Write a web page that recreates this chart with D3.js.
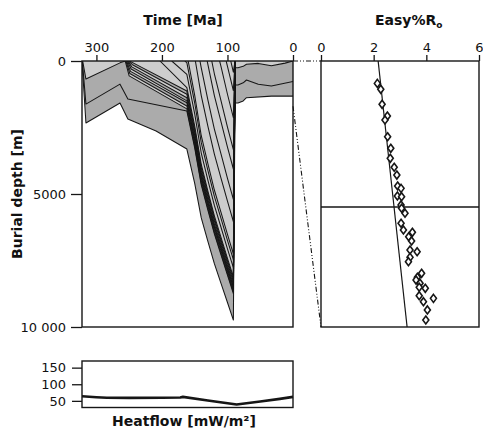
<!DOCTYPE html>
<html><head><meta charset="utf-8">
<script src="https://cdn.jsdelivr.net/npm/d3@7"></script>
<style>
body{margin:0;background:#fff;}
svg{display:block;}
text{font-family:"DejaVu Sans",sans-serif;fill:#111;}
</style></head><body>
<svg id="chart" width="483" height="430"></svg>
<script>
// ---------- tick arrays ----------
const timeTicks = [300, 200, 100, 0];
const depthTicks = [0, 5000, 10000];
const depthTickLabels = ["0", "5000", "10 000"];
const roTicks = [0, 2, 4, 6];
const heatTicks = [50, 100, 150];

// ---------- burial history horizons: [time Ma, depth m] ----------
const basement = [[322,0],[316,2330],[264,1580],[252,2180],[209,2630],[162,3310],[150,4600],[140,5900],[130,6770],[120,7620],[110,8350],[100,9080],[91,9740],[88.5,1580],[84,1580],[76,1500],[71,1380],[33,1320],[0,1320]];
const horizonB = [[321.5,0],[316,1620],[264,870],[252,1430],[162,1880],[150,3270],[140,4660],[130,5600],[120,6500],[110,7280],[100,8050],[91,8740],[88.5,900],[84,900],[76,820],[71,715],[53,875],[33,940],[0,770]];
const horizonA = [[321,0],[316,680],[264,70],[256,0]];
const fan1 = [[256,0],[250,560],[162,1800],[150,3200],[140,4590],[130,5530],[120,6440],[110,7220],[100,7990],[91,8680],[88.5,250],[84,250],[76,200],[71,120],[53,90],[33,180],[12,80],[0,0]];
const fan2 = [[255,0],[249,470],[162,1690],[150,3090],[140,4490],[130,5440],[120,6360],[110,7140],[100,7910],[91,8610],[88.5,0]];
const fan3 = [[254,0],[248,390],[162,1570],[150,2980],[140,4390],[130,5340],[120,6260],[110,7050],[100,7830],[91,8520],[88.5,0]];
const fan4 = [[253,0],[247,300],[162,1500],[150,2920],[140,4330],[130,5290],[120,6210],[110,6990],[100,7780],[91,8470],[88.5,0]];
const fan5 = [[252,0],[246,220],[162,1380],[150,2800],[140,4220],[130,5190],[120,6120],[110,6900],[100,7690],[91,8390],[88.5,0]];
const fan6 = [[251,0],[245,140],[162,1250],[150,2680],[140,4110],[130,5080],[120,6010],[110,6810],[100,7600],[91,8300],[88.5,0]];
const fan7 = [[250,0],[244,70],[162,1130],[150,2570],[140,4000],[130,4980],[120,5920],[110,6720],[100,7510],[91,8210],[88.5,0]];
const fan8 = [[203,0],[162,1000],[150,2450],[140,3890],[130,4880],[120,5820],[110,6620],[100,7420],[91,8120],[88.5,0]];
const young0 = [[185,0],[162,500],[150,1990],[140,3460],[130,4470],[120,5430],[110,6240],[100,7060],[91,7770],[88.5,0]];
const young1 = [[165,0],[162,60],[150,1580],[140,3070],[130,4100],[120,5090],[110,5910],[100,6740],[91,7470],[88.5,0]];
const young2 = [[160,0],[150,1290],[140,2810],[130,3850],[120,4850],[110,5680],[100,6520],[91,7250],[88.5,0]];
const young3 = [[149,0],[140,1300],[130,2440],[120,3500],[110,4390],[100,5270],[91,6040],[88.5,0]];
const young4 = [[142,0],[140,260],[130,1450],[120,2560],[110,3480],[100,4410],[91,5200],[88.5,0]];
const young5 = [[131,0],[130,120],[120,1300],[110,2270],[100,3240],[91,4060],[88.5,0]];
const young6 = [[124,0],[120,480],[110,1480],[100,2490],[91,3330],[88.5,0]];
const young7 = [[112,0],[110,190],[100,1250],[91,2130],[88.5,0]];
const young8 = [[102,0],[100,200],[91,1110],[88.5,0]];
const young9 = [[95,0],[91,420],[88.5,0]];
// shade of the layer lying directly above each horizon
const layerShade = ["dark","dark","light","light","dark","light","dark","light","dark","light","light","light","light","light","light","light","light","light","light","light","light"];

// ---------- vitrinite reflectance (Easy%Ro) ----------
const roValue = [2.14,2.27,2.32,2.52,2.43,2.53,2.65,2.63,2.78,2.88,2.91,3.04,2.90,3.06,3.04,3.06,3.19,3.04,3.13,3.47,3.33,3.44,3.38,3.65,3.38,3.32,3.82,3.66,3.61,3.76,3.96,3.73,3.73,4.27,3.89,4.04,3.98];
const roDepth = [143,181,277,352,377,484,558,622,679,729,799,814,863,867,920,941,973,1037,1080,1095,1123,1150,1208,1219,1255,1283,1357,1382,1400,1421,1453,1446,1500,1517,1538,1591,1655];
const trendRo = [2.17, 3.27];
const trendDepth = [0, 1700];
const markerDepth = 933;
const wellDepth = 1700;

// ---------- heat flow ----------
const heatTime = [322,300,284,250,200,172,168,130,86,50,20,0];
const heatFlow = [64,61,59.5,59,59.5,60,62,51,39,48,56,62];

// ---------- drawing ----------
const svg = d3.select("#chart");
const ink = "#161616";
const shadeColor = {light:"#cdcdcd", dark:"#ababab"};

const x = d3.scaleLinear().domain([322,0]).range([82,293]);
const y = d3.scaleLinear().domain([0,10000]).range([61,327]);
const xr = d3.scaleLinear().domain([0,6]).range([321,479]);
const yr = d3.scaleLinear().domain([0,wellDepth]).range([61,327]);
const yh = d3.scaleLinear().domain([30,170]).range([407.5,361]);

const horizons = [basement,horizonB,horizonA,fan1,fan2,fan3,fan4,fan5,fan6,fan7,fan8,young0,young1,young2,young3,young4,young5,young6,young7,young8,young9];

svg.append("clipPath").attr("id","clipB").append("rect")
  .attr("x",x(322)).attr("y",y(0)).attr("width",x(0)-x(322)).attr("height",y(10000)-y(0));

const gB = svg.append("g").attr("clip-path","url(#clipB)");
const area = d3.area().x(d=>x(d[0])).y0(y(0)).y1(d=>y(d[1]));
const line = d3.line().x(d=>x(d[0])).y(d=>y(d[1]));

horizons.forEach((h,i)=>{
  gB.append("path").attr("d",area(h)).attr("fill",shadeColor[layerShade[i]]).attr("stroke","none");
});
horizons.forEach((h,i)=>{
  gB.append("path").attr("d",line(h)).attr("fill","none").attr("stroke",ink)
    .attr("stroke-width",1.05).attr("stroke-linejoin","round");
});

// frames
function frame(x0,y0,x1,y1){
  svg.append("rect").attr("x",x0).attr("y",y0).attr("width",x1-x0).attr("height",y1-y0)
    .attr("fill","none").attr("stroke",ink).attr("stroke-width",1.4);
}
frame(x(322),y(0),x(0),y(10000));
frame(xr(0),yr(0),xr(6),yr(wellDepth));
frame(x(322),yh(170),x(0),yh(30));

function styleAxis(g,fs){
  g.select(".domain").remove();
  g.selectAll(".tick line").attr("stroke",ink).attr("stroke-width",1.3);
  g.selectAll(".tick text").attr("font-family","DejaVu Sans, sans-serif").attr("font-size",fs).attr("fill","#111");
}

const gx = svg.append("g").attr("transform",`translate(0,${y(0)})`)
  .call(d3.axisTop(x).tickValues(timeTicks).tickFormat(d3.format("d")).tickSize(6).tickPadding(3));
styleAxis(gx,13);
const gy = svg.append("g").attr("transform",`translate(${x(322)},0)`)
  .call(d3.axisLeft(y).tickValues(depthTicks).tickFormat((d,i)=>depthTickLabels[i]).tickSize(11).tickPadding(5));
styleAxis(gy,13);
const gr = svg.append("g").attr("transform",`translate(0,${yr(0)})`)
  .call(d3.axisTop(xr).tickValues(roTicks).tickFormat(d3.format("d")).tickSize(6).tickPadding(3));
styleAxis(gr,13);
const gh = svg.append("g").attr("transform",`translate(${x(322)},0)`)
  .call(d3.axisLeft(yh).tickValues(heatTicks).tickFormat(d3.format("d")).tickSize(10).tickPadding(6));
styleAxis(gh,13);

// connector lines between burial plot and Ro plot
const dash = "5,2,1,2,1,2";
svg.append("line").attr("x1",x(0)).attr("y1",y(0)).attr("x2",xr(0)).attr("y2",yr(0))
  .attr("stroke",ink).attr("stroke-width",1.1).attr("stroke-dasharray",dash);
svg.append("line").attr("x1",x(0)).attr("y1",y(wellDepth)).attr("x2",xr(0)).attr("y2",yr(wellDepth))
  .attr("stroke",ink).attr("stroke-width",1.1).attr("stroke-dasharray",dash);

// Ro plot
svg.append("line").attr("x1",xr(0)).attr("x2",xr(6)).attr("y1",yr(markerDepth)).attr("y2",yr(markerDepth))
  .attr("stroke",ink).attr("stroke-width",1.3);
svg.append("line").attr("x1",xr(trendRo[0])).attr("y1",yr(trendDepth[0]))
  .attr("x2",xr(trendRo[1])).attr("y2",yr(trendDepth[1]))
  .attr("stroke",ink).attr("stroke-width",1.2);
svg.append("g").selectAll("path").data(roValue.map((v,i)=>[v,roDepth[i]])).join("path")
  .attr("d",d=>{const cx=xr(d[0]),cy=yr(d[1]);return `M${cx},${cy-4}L${cx+3},${cy}L${cx},${cy+4}L${cx-3},${cy}Z`;})
  .attr("fill","#fff").attr("stroke",ink).attr("stroke-width",1.6).attr("stroke-linejoin","miter");

// heat flow
svg.append("path").datum(heatTime.map((t,i)=>[t,heatFlow[i]]))
  .attr("d",d3.line().x(d=>x(d[0])).y(d=>yh(d[1])))
  .attr("fill","none").attr("stroke",ink).attr("stroke-width",2.6).attr("stroke-linejoin","round");

// titles
svg.append("text").attr("x",183).attr("y",25).attr("text-anchor","middle")
  .attr("font-weight","bold").attr("font-size",14).text("Time [Ma]");
const ro = svg.append("text").attr("x",375).attr("y",25).attr("font-weight","bold").attr("font-size",14);
ro.append("tspan").text("Easy%R");
ro.append("tspan").attr("font-size",9).attr("dy",3).text("o");
svg.append("text").attr("transform","translate(22,194) rotate(-90)").attr("text-anchor","middle")
  .attr("font-weight","bold").attr("font-size",14).text("Burial depth [m]");
svg.append("text").attr("x",184).attr("y",426).attr("text-anchor","middle")
  .attr("font-weight","bold").attr("font-size",14).text("Heatflow [mW/m²]");
</script>
</body></html>
